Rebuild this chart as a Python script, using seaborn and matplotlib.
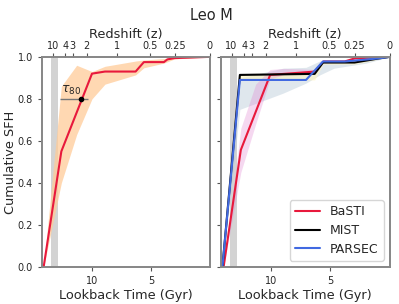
import numpy as np
import pandas as pd
import matplotlib
matplotlib.use("Agg")
import matplotlib.pyplot as plt
import seaborn as sns

# ---- datos ----
# BaSTI, panel izquierdo
t_basti = [14.1, 12.6, 10.0, 8.9, 6.3, 5.6, 3.9, 3.6, 3.0, 0.0]
sfh_basti = [0.0, 0.55, 0.92, 0.93, 0.93, 0.975, 0.975, 0.988, 0.994, 1.0]

t_band_l = [14.1, 12.6, 11.3, 10.0, 8.9, 6.3, 5.6, 3.9, 3.0, 0.0]
low_band_l = [0.0, 0.40, 0.63, 0.80, 0.87, 0.914, 0.948, 0.97, 0.99, 1.0]
up_band_l = [0.0, 0.86, 0.96, 0.93, 0.955, 0.98, 0.985, 0.992, 0.995, 1.0]

# tau80 y su incertidumbre
tau80 = 10.96
tau80_lo = 12.74
tau80_hi = 10.31

# panel derecho
t_basti_r = [14.0, 12.55, 10.08, 6.3, 5.6, 3.8, 2.94, 0.0]
sfh_basti_r = [0.0, 0.557, 0.914, 0.93, 0.978, 0.978, 0.993, 1.0]
t_pink = [14.0, 12.55, 11.3, 10.08, 8.9, 6.3, 5.6, 3.8, 2.94, 0.0]
low_pink = [0.0, 0.45, 0.68, 0.895, 0.915, 0.925, 0.972, 0.975, 0.99, 1.0]
up_pink = [0.0, 0.66, 0.87, 0.94, 0.945, 0.94, 0.982, 0.982, 0.995, 1.0]

t_mist = [14.1, 12.63, 6.33, 5.63, 2.97, 0.87, 0.0]
sfh_mist = [0.0, 0.914, 0.919, 0.973, 0.973, 0.993, 1.0]
low_mist = [0.0, 0.89, 0.89, 0.965, 0.965, 0.99, 1.0]
up_mist = [0.0, 0.92, 0.925, 0.98, 0.98, 0.995, 1.0]

t_parsec = [14.1, 12.63, 7.06, 5.63, 3.8, 0.87, 0.0]
sfh_parsec = [0.0, 0.89, 0.89, 0.978, 0.978, 0.993, 1.0]
t_blue = [14.1, 12.63, 9.0, 7.06, 5.9, 4.7, 2.0, 0.0]
low_blue = [0.0, 0.75, 0.827, 0.875, 0.914, 0.946, 0.97, 1.0]
up_blue = [0.0, 0.90, 0.946, 0.95, 0.98, 0.982, 0.99, 1.0]

# eje superior: redshift
z_labels = ["10", "4", "3", "2", "1", "0.5", "0.25", "0"]
z_lookback = [13.33, 12.25, 11.65, 10.45, 7.9, 5.1, 2.97, 0.0]

# banda gris (reionización)
gray_band = (12.85, 13.45)

sns.set_style("ticks")
plt.rcParams["font.family"] = ["DejaVu Sans"]

c_red = "#e8193c"
c_blue = "#4169e1"
fs_lab = 9.3
fs_tick = 7

fig = plt.figure(figsize=(3.99, 3.04), dpi=100)
ax1 = fig.add_axes([0.105, 0.122, 0.421, 0.691])
ax2 = fig.add_axes([0.553, 0.122, 0.424, 0.691])


def estilo(ax, etiquetas_y=True):
    ax.set_xlim(14.25, 0)
    ax.set_ylim(0, 1.0)
    for s in ax.spines.values():
        s.set_color("#888888")
        s.set_linewidth(1.3)
    ax.set_xticks([10, 5])
    ax.set_yticks([0, 0.2, 0.4, 0.6, 0.8, 1.0])
    ax.tick_params(labelsize=fs_tick, color="#555555", length=3, width=0.8)
    if not etiquetas_y:
        ax.set_yticklabels([])
    ax.set_xlabel("Lookback Time (Gyr)", fontsize=fs_lab, labelpad=2)
    ax.axvspan(*gray_band, color="#d3d3d3", lw=0, zorder=1)

    top = ax.twiny()
    top.set_xlim(ax.get_xlim())
    top.set_xticks(z_lookback)
    top.set_xticklabels(z_labels)
    top.tick_params(labelsize=fs_tick, color="#555555", length=3, width=0.8, pad=1.5)
    for s in top.spines.values():
        s.set_color("#888888")
        s.set_linewidth(1.3)
    top.set_xlabel("Redshift (z)", fontsize=fs_lab, labelpad=2)


# panel izquierdo
estilo(ax1)
ax1.fill_between(t_band_l, low_band_l, up_band_l, color="#ffcc99", alpha=0.75, lw=0, zorder=2)
sns.lineplot(x=t_basti, y=sfh_basti, ax=ax1, color=c_red, lw=1.5, sort=False, zorder=4)
# eje invertido: el error "inferior" (valores menores) queda a la derecha
ax1.errorbar(tau80, 0.8, xerr=[[tau80 - tau80_hi], [tau80_lo - tau80]],
             fmt="o", ms=3, color="k", ecolor="#777777", elinewidth=1, zorder=5)
ax1.text(12.6, 0.83, r"$\tau_{80}$", fontsize=9)
ax1.set_ylabel("Cumulative SFH", fontsize=fs_lab)
ax1.yaxis.set_label_coords(-0.15, 0.5)

# panel derecho
estilo(ax2, etiquetas_y=False)
ax2.fill_between(t_blue, low_blue, up_blue, color="#b0c4d4", alpha=0.4, lw=0, zorder=2)
ax2.fill_between(t_mist, low_mist, up_mist, color="#fff5c0", alpha=0.6, lw=0, zorder=2)
ax2.fill_between(t_pink, low_pink, up_pink, color="#e080d0", alpha=0.3, lw=0, zorder=2)
sns.lineplot(x=t_basti_r, y=sfh_basti_r, ax=ax2, color=c_red, lw=1.5, sort=False, zorder=4, label="BaSTI")
sns.lineplot(x=t_mist, y=sfh_mist, ax=ax2, color="black", lw=1.5, sort=False, zorder=4, label="MIST")
sns.lineplot(x=t_parsec, y=sfh_parsec, ax=ax2, color=c_blue, lw=1.5, sort=False, zorder=4, label="PARSEC")
ax2.legend(loc="lower right", fontsize=9, handlelength=2.0, borderaxespad=0.5, labelspacing=0.45)

fig.text(0.529, 0.95, "Leo M", ha="center", va="center", fontsize=10.5)

fig.savefig("out.png", dpi=100)
